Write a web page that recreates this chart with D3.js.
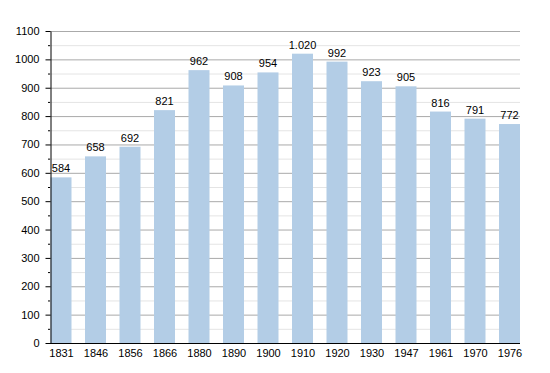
<!DOCTYPE html>
<html>
<head>
<meta charset="utf-8">
<script src="https://cdn.jsdelivr.net/npm/d3@7"></script>
<style>
  body { margin: 0; background: #fff; }
  text { font-family: "Liberation Sans", Arial, sans-serif; }
</style>
</head>
<body>
<script>
// census years and population
const years = ['1831', '1846', '1856', '1866', '1880', '1890', '1900', '1910', '1920', '1930', '1947', '1961', '1970', '1976'];
const population = [584, 658, 692, 821, 962, 908, 954, 1020, 992, 923, 905, 816, 791, 772];
const yTicks = [0, 100, 200, 300, 400, 500, 600, 700, 800, 900, 1000, 1100];

const width = 550, height = 373;
const plotLeft = 50, plotRight = 520, plotTop = 31, plotBottom = 343;
const barWidth = 21;

const svg = d3.select('body').append('svg')
  .attr('width', width)
  .attr('height', height);

const yScale = d3.scaleLinear().domain([0, 1100]).range([plotBottom, plotTop]);
const xScale = d3.scalePoint().domain(years).range([61, 509.5]);

// minor grid lines every 50
const minor = d3.range(50, 1100, 100);
svg.append('g').selectAll('line')
  .data(minor)
  .join('line')
  .attr('x1', plotLeft).attr('x2', plotRight)
  .attr('y1', d => yScale(d) + 0.5).attr('y2', d => yScale(d) + 0.5)
  .attr('stroke', '#e4e4e4');

// major grid lines
svg.append('g').selectAll('line')
  .data(yTicks.slice(1))
  .join('line')
  .attr('x1', plotLeft).attr('x2', plotRight)
  .attr('y1', d => yScale(d) + 0.5).attr('y2', d => yScale(d) + 0.5)
  .attr('stroke', '#aaaaaa');

// bars
svg.append('g').selectAll('rect')
  .data(population)
  .join('rect')
  .attr('x', (d, i) => xScale(years[i]) - barWidth / 2)
  .attr('y', d => yScale(d))
  .attr('width', barWidth)
  .attr('height', d => yScale(0) - yScale(d))
  .attr('fill', '#b3cde6');

// value labels
const fmt = d => d >= 1000 ? d3.format(',')(d).replace(',', '.') : d;
svg.append('g').selectAll('text')
  .data(population)
  .join('text')
  .attr('x', (d, i) => xScale(years[i]))
  .attr('y', d => yScale(d) - 5)
  .attr('text-anchor', 'middle')
  .style('font-size', '11px')
  .style('fill', '#000')
  .text(fmt);

// y axis
const yAxis = d3.axisLeft(yScale).tickValues(yTicks).tickFormat(d3.format('d')).tickSize(5).tickSizeOuter(0);
const gy = svg.append('g')
  .attr('transform', `translate(${plotLeft + 0.5},0)`)
  .call(yAxis);
gy.select('.domain').attr('stroke', '#000');
gy.selectAll('text').style('font-size', '11px').attr('dx', '-3').style('fill', '#000');

// minor ticks
svg.append('g').selectAll('line')
  .data(minor)
  .join('line')
  .attr('x1', plotLeft - 2).attr('x2', plotLeft)
  .attr('y1', d => yScale(d) + 0.5).attr('y2', d => yScale(d) + 0.5)
  .attr('stroke', '#000');

// x axis
const xAxis = d3.axisBottom(xScale).tickSize(0).tickSizeOuter(0);
const gx = svg.append('g')
  .attr('transform', `translate(0,${plotBottom + 0.5})`)
  .call(xAxis);
gx.select('.domain').attr('d', `M${plotLeft},0H${plotRight}`).attr('stroke', '#000');
gx.selectAll('text').style('font-size', '11px').attr('dy', '0.95em').style('fill', '#000');
</script>
</body>
</html>
